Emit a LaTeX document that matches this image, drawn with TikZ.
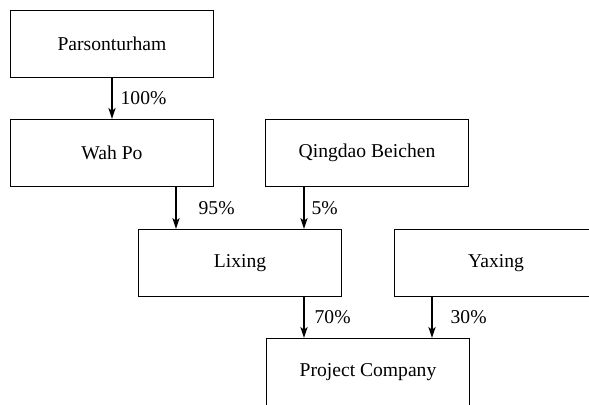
\documentclass[tikz,border=0pt]{standalone}
\usepackage{fontspec}
\setmainfont{Liberation Serif}
\usetikzlibrary{arrows.meta,positioning}

\begin{document}
\begin{tikzpicture}[x=0.5pt,y=-0.5pt,>={Stealth[length=5.5pt,width=3.6pt,inset=1.4pt]},
    firm/.style={draw,line width=0.65pt,minimum width=101.4pt,minimum height=33.4pt,
      inner sep=0pt,font=\fontsize{9.8pt}{12pt}\selectfont},
    share/.style={draw,line width=0.65pt,->},
    pct/.style={midway,right,inner sep=1pt,font=\fontsize{9.8pt}{12pt}\selectfont}]
  \useasboundingbox (0,0) rectangle (589,404);
  \clip (0,0) rectangle (589,404);
  \node[firm] (par) at (112,44) {Parsonturham};
  \node[firm] (wah) at (112,153) {Wah Po};
  \node[firm] (qin) at (367,153) {Qingdao Beichen};
  \node[firm] (lix) at (240,263) {Lixing};
  \node[firm] (yax) at (496,263) {Yaxing};
  \node[firm] (pro) at (368,372) {Project Company};
  % entry points
  \coordinate (lixL) at ([xshift=-32pt]lix.north);
  \coordinate (lixR) at ([xshift=32pt]lix.north);
  \coordinate (proL) at ([xshift=-32pt]pro.north);
  \coordinate (proR) at ([xshift=32pt]pro.north);
  \draw[share] (par) -- (wah) node[pct,xshift=3pt] {100\%};
  \draw[share] (wah.south -| lixL) -- (lixL) node[pct,xshift=10pt] {95\%};
  \draw[share] (qin.south -| lixR) -- (lixR) node[pct,xshift=2.5pt] {5\%};
  \draw[share] (lix.south -| proL) -- (proL) node[pct,xshift=4pt] {70\%};
  \draw[share] (yax.south -| proR) -- (proR) node[pct,xshift=8pt] {30\%};
\end{tikzpicture}
\end{document}
